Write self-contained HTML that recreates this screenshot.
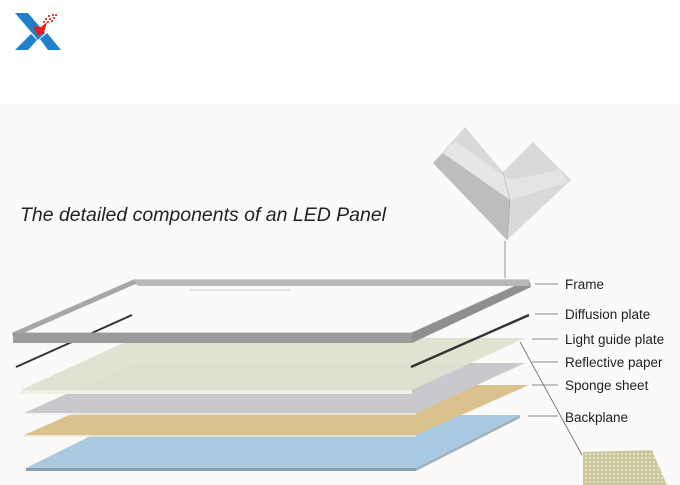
<!DOCTYPE html>
<html><head><meta charset="utf-8"><style>
html,body{margin:0;padding:0;background:#fff}
svg{display:block}
text{font-family:"Liberation Sans",sans-serif}
</style></head><body>
<svg width="680" height="485" viewBox="0 0 680 485" xmlns="http://www.w3.org/2000/svg">
<rect x="0" y="0" width="680" height="485" fill="#fcf9f9"/>
<rect x="0" y="0" width="680" height="104" fill="#ffffff"/>
<!-- logo -->
<polygon points="15,13 28,13 45,33 38,40" fill="#1f7fc8"/>
<polygon points="15,50 28,50 37,40 31,34" fill="#1f7fc8"/>
<polygon points="40,39 47,33 61,50 48,50" fill="#1f7fc8"/>
<polygon points="33,26 41,27 47,22 44,33 38,36" fill="#e02020"/>
<g fill="#e04040"><rect x="48" y="15" width="2" height="2"/><rect x="52" y="14" width="2" height="2"/><rect x="55" y="14" width="2" height="2"/><rect x="45" y="18" width="2" height="2"/><rect x="49" y="18" width="2" height="2"/><rect x="53" y="17" width="2" height="2"/><rect x="43" y="21" width="2" height="2"/><rect x="47" y="21" width="2" height="2"/><rect x="51" y="20" width="2" height="2"/></g>
<!-- title -->
<text x="20" y="221" font-size="19.5" font-style="italic" fill="#222" textLength="366" lengthAdjust="spacingAndGlyphs">The detailed components of an LED Panel</text>
<!-- corner piece -->
<polygon points="433,163 465,127 503,172 533,142 571,180 507,240" fill="#d9d9d9"/>
<polygon points="433,163 443,153 510,200 507,240" fill="#bdbdbd"/>
<polygon points="443,153 455,141 510,180 510,200" fill="#e6e6e6"/>
<polygon points="510,180 560,170 568,182 510,200" fill="#e4e4e4"/>
<line x1="510" y1="200" x2="507" y2="240" stroke="#aaa" stroke-width="0.8"/>
<line x1="503" y1="172" x2="510" y2="200" stroke="#bbb" stroke-width="0.8"/>
<line x1="505" y1="241" x2="505" y2="278" stroke="#777" stroke-width="0.8"/>
<!-- backplane -->
<polygon points="133,415 520,415 416,468 26,468" fill="#a8c9df"/>
<polygon points="26,468 416,468 416,471 26,471" fill="#8aa0ad"/>
<polygon points="416,468 520,415 520,418 416,471" fill="#9fb2be"/>
<!-- sponge -->
<polygon points="137,385 529,385 416,435 24,435" fill="#d9c28e"/>
<line x1="24" y1="436" x2="416" y2="436" stroke="#efe6cf" stroke-width="1.5"/>
<!-- reflective -->
<polygon points="135,363 525,363 416,413 24,413" fill="#c9c9cd"/>
<line x1="24" y1="414" x2="416" y2="414" stroke="#f2f2f2" stroke-width="1.5"/>
<!-- light guide -->
<polygon points="134,338 525,338 412,390 21,390" fill="#dde2cf" opacity="0.95"/>
<polygon points="21,390 412,390 412,394 21,394" fill="#eef0e6"/>
<!-- diffusion bars -->
<line x1="132" y1="315" x2="16" y2="367" stroke="#333" stroke-width="2"/>
<line x1="529" y1="315" x2="411" y2="367" stroke="#333" stroke-width="2.5"/>
<!-- frame -->
<polygon points="134,282 529,282 412,335 13,335" fill="none" stroke="#a7a7a7" stroke-width="5"/>
<polygon points="13,333 412,333 412,343 13,343" fill="#9b9b9b"/>
<polygon points="412,333 529,280 531,287 412,343" fill="#8f8f8f"/>
<polygon points="134,280 529,280 529,286 138,286" fill="#b8b8b8"/>
<line x1="190" y1="290" x2="290" y2="290" stroke="#ccc" stroke-width="1"/>
<!-- leaders -->
<g stroke="#888" stroke-width="1">
<line x1="535" y1="284" x2="558" y2="284"/>
<line x1="535" y1="314" x2="558" y2="314"/>
<line x1="532" y1="339" x2="558" y2="339"/>
<line x1="532" y1="362" x2="558" y2="362"/>
<line x1="532" y1="385" x2="558" y2="385"/>
<line x1="528" y1="416" x2="558" y2="416"/>
<line x1="520" y1="342" x2="582" y2="455" stroke="#666" stroke-width="0.8"/>
</g>
<g font-size="13.5" fill="#222">
<text x="565" y="289">Frame</text>
<text x="565" y="319">Diffusion plate</text>
<text x="565" y="344">Light guide plate</text>
<text x="565" y="367">Reflective paper</text>
<text x="565" y="390">Sponge sheet</text>
<text x="565" y="422">Backplane</text>
</g>
<!-- texture -->
<defs><pattern id="hc" width="4" height="4" patternUnits="userSpaceOnUse"><rect width="4" height="4" fill="#c9c59c"/><circle cx="2" cy="2" r="1.2" fill="#e6e3c4"/></pattern></defs>
<polygon points="583,452 652,450 667,485 583,485" fill="url(#hc)"/>
</svg>
</body></html>
